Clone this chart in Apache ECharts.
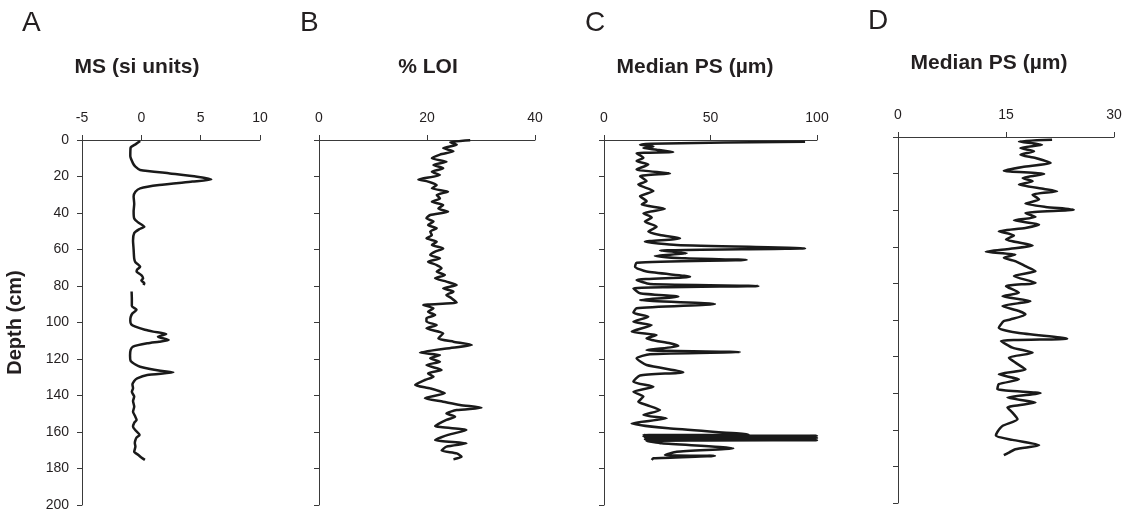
<!DOCTYPE html>
<html>
<head>
<meta charset="utf-8">
<script src="https://cdn.jsdelivr.net/npm/echarts@6/dist/echarts.min.js"></script>
<style>
  html, body { margin: 0; padding: 0; background: #fff; }
  #chart { width: 1132px; height: 514px; }
</style>
</head>
<body>
<div id="chart"></div>
<script>
// [depth (cm), value]
var msData = [
  [0.5,-0.1],[2.4,-0.5],[4.2,-0.9],[8.8,-0.93],[12.8,-0.7],[14.6,-0.5],[16.4,-0.1],[18.3,2.4],[20.1,4.7],[21.6,5.9],
  [22.8,4.3],[24.7,1.5],[26.5,-0.1],[28.4,-0.5],[31,-0.65],[35,-0.6],[39,-0.65],[43,-0.6],[45,-0.3],[47.5,0.25],
  [49,-0.2],[51,-0.6],[55,-0.7],[60,-0.65],[65,-0.6],[67,-0.5],[69.4,-0.1],[71,-0.35],[72,-0.4],[74,0.0],
  [75.7,0.15],[77,0.0],[78.5,0.25],[79.5,0.2],[81,null],[83,-0.82],[87,-0.8],[91,-0.8],[93,-0.4],[95,-0.75],
  [97,-0.9],[99,-0.93],[101,-0.85],[102.3,-0.5],[104,0.3],[105,1.0],[106.3,2.1],[107.8,1.4],[109.6,2.3],[110.5,1.5],
  [111.4,0.5],[113.2,-0.7],[115,-0.9],[118,-0.95],[121,-0.9],[123,-0.5],[124.2,-0.1],[126.4,1.6],[127.3,2.7],[128.8,0.5],
  [130.6,-0.35],[132,-0.6],[134,-0.75],[136,-0.7],[138,-0.8],[140.6,-0.6],[143,-0.7],[146.1,-0.6],[148.9,-0.7],[151,-0.55],
  [153.4,-0.4],[155,-0.6],[157.1,-0.7],[159,-0.5],[161.6,-0.15],[163,-0.4],[164.4,-0.5],[166,-0.55],[168,-0.5],[170.8,-0.6],
  [172.6,-0.25],[174,0.0],[175.3,0.3]
];
var loiData = [
  [0.2,28.0],[1.3,24.3],[2.6,25.5],[4.4,23.0],[6.2,24.9],[8.0,22.4],[10,20.9],[11.9,23.6],[13.7,21.2],[15.5,23.0],
  [17.4,20.9],[19.2,22.4],[21.6,18.4],[22.8,20.2],[24.7,21.8],[26.5,20.9],[28.3,23.9],[30.1,21.8],[32,22.4],[33.8,20.9],
  [35.6,23.0],[37.5,22.1],[39.3,23.9],[41.1,20.6],[42.9,19.9],[44.7,21.2],[46.6,20.2],[48.4,21.8],[50.2,20.6],[52.1,20.9],
  [53.9,19.9],[55.7,21.8],[57.5,20.9],[59.4,23.0],[61.2,21.5],[63,20.6],[64.8,22.4],[66.7,20.2],[68.5,21.8],[70.3,22.7],
  [72.1,21.8],[74,23.3],[75.8,21.5],[77.6,23.6],[79.5,25.5],[81.3,23.0],[83.1,24.9],[84.9,23.6],[86.8,24.6],[89.1,25.5],
  [90.4,19.3],[92.2,21.2],[94.1,20.2],[95.9,21.5],[97.7,19.9],[99.5,19.9],[101.4,21.8],[103.2,19.9],[105.9,23.0],[108.7,22.1],
  [110.5,24.9],[112.3,28.3],[114.2,23.6],[116.5,18.7],[117.8,22.4],[119.6,20.6],[121.5,22.4],[123.3,19.9],[126,22.7],[127.9,20.2],
  [129.7,21.2],[131.5,19.6],[134.2,17.8],[136.1,20.6],[138.8,23.3],[141.5,19.6],[143.4,23.0],[145.2,26.1],[146.7,30.1],[148,25.5],
  [149.8,23.6],[151.6,25.2],[153.4,23.6],[156.7,21.5],[158.9,27.3],[161.6,23.9],[164.4,21.5],[166.2,27.3],[168,23.6],[170.2,22.7],
  [171.7,25.5],[173.5,26.4],[175,24.9]
];
var psData = [
  [0.9,94.4],[2,22],[2.6,16.9],[3.5,23.2],[4.4,18.5],[5.3,24.7],[6.6,32.5],[7.3,15.3],[9.7,18.5],[11.5,15.3],
  [13.4,20.8],[16.1,15.3],[18.3,31.0],[19.8,16.9],[22.5,20.0],[24.4,16.1],[28,23.2],[30.8,16.9],[33.5,20.0],[35.3,17.7],
  [37.7,28.6],[40.2,18.5],[42.4,22.4],[44.7,19.2],[47.5,24.7],[50.2,20.8],[52.1,26.3],[53.9,35.7],[55.7,19.2],[57.5,34.1],
  [59.4,94.4],[60.6,26.3],[62.1,38.8],[63.5,23.9],[64.8,38.0],[65.7,67.0],[67.2,15.3],[69.4,14.6],[72.1,20.0],[74.9,40.4],
  [76.7,15.3],[78.9,21.6],[80,72.5],[81.3,13.8],[84,16.9],[85.8,34.9],[87.7,16.9],[89.9,52.1],[92.2,15.3],[94.6,13.8],
  [96.8,20.8],[99.6,13.8],[101.4,22.4],[105,13.0],[106.9,24.7],[108.7,20.0],[111.4,31.0],[112.9,34.9],[115.1,20.0],[116.2,63.8],
  [117.4,21.6],[119.6,15.3],[123.3,20.0],[127.2,37.2],[129,16.9],[132.4,13.8],[135.2,23.2],[138,13.8],[140.6,18.5],[143.4,16.1],
  [145.2,20.0],[148,26.3],[150.7,18.5],[152.5,29.4],[155.3,13.0],[158,30.2],[161.3,67.8],[161.7,18.5],[162.1,100],[162.5,18.5],
  [162.9,100],[163.3,19.2],[163.7,100],[164.1,19.2],[164.5,100],[164.9,20.0],[166.2,27.1],[168.9,60.7],[170.8,34.1],[172.6,28.6],
  [173.1,52.1],[174.4,23.2],[175.3,22.4]
];
var ps2Data = [
  [1.5,21.4],[2.4,16.8],[4.2,20.0],[6,17.0],[7.8,18.9],[9.7,17.0],[11.5,19.1],[14.2,21.2],[16.4,17.3],[18.4,14.7],
  [20.2,20.3],[22.4,17.3],[24.2,18.7],[26,16.8],[28.4,20.3],[29.7,22.1],[31.5,18.7],[34.2,19.6],[36.4,17.7],[38.2,20.5],
  [39.7,24.4],[41.5,17.7],[43.7,19.1],[45.5,16.1],[47.8,19.6],[49.7,17.7],[51.5,14.0],[53.8,16.1],[56,15.0],[59.3,18.7],
  [61.1,15.6],[62.7,12.2],[64.2,16.3],[66,14.7],[67.8,16.3],[70.6,17.7],[73.3,19.1],[76,16.1],[79.7,19.1],[81.5,15.0],
  [85.1,16.8],[87,14.5],[89.7,18.4],[92.4,14.5],[95.1,16.8],[97,17.7],[99.7,15.6],[100.6,14.7],[104.2,14.0],[107,16.6],
  [110.2,23.5],[111.5,14.3],[115.1,15.9],[117.9,18.7],[120.6,15.4],[123.3,16.3],[127,17.7],[129.7,14.0],[132.4,16.8],[135.1,14.0],
  [137.8,13.8],[140,19.8],[142.4,15.2],[145.1,19.1],[147.8,15.2],[150.6,15.9],[154.2,16.6],[157.9,14.5],[161.2,13.8],[163.3,13.6],
  [165.5,15.9],[168.4,19.6],[170.6,16.3],[172.5,15.4],[173.9,14.7]
];

var panelLetters = ['A', 'B', 'C', 'D'];
var panelTitles = ['MS (si units)', '% LOI', 'Median PS (\u00b5m)', 'Median PS (\u00b5m)'];
var xRanges = [[-5, 10, 5], [0, 40, 20], [0, 100, 50], [0, 30, 15]];
var depthRange = [0, 200, 20];

var font = "'Liberation Sans', Arial, sans-serif";
var ink = '#231f20';
var axisCol = '#3a3a3a';

var grids = [
  { left: 82, top: 140, width: 178, height: 365 },
  { left: 319, top: 140, width: 216, height: 365 },
  { left: 604, top: 140, width: 213, height: 365 },
  { left: 898, top: 137, width: 216, height: 366 }
];
var letterPos = [[22, 23], [300, 23], [585, 23], [868, 21]];
var titlePos = [[137, 67], [428, 67], [695, 67], [989, 63]];

function toXY(rows) {
  return rows.map(function (r) { return [r[1] == null ? '-' : r[1], r[0]]; });
}
var seriesData = [msData, loiData, psData, ps2Data];

var chart = echarts.init(document.getElementById('chart'), null, { renderer: 'canvas' });

var graphics = [];
panelLetters.forEach(function (t, i) {
  graphics.push({
    type: 'text', x: letterPos[i][0], y: letterPos[i][1],
    style: { text: t, font: '28px ' + font, fill: ink, align: 'left', verticalAlign: 'middle', textAlign: 'left', textVerticalAlign: 'middle' }
  });
  graphics.push({
    type: 'text', x: titlePos[i][0], y: titlePos[i][1],
    style: { text: panelTitles[i], font: 'bold 21px ' + font, fill: ink, align: 'center', verticalAlign: 'middle', textAlign: 'center', textVerticalAlign: 'middle' }
  });
});

chart.setOption({
  animation: false,
  backgroundColor: '#fff',
  grid: grids,
  graphic: graphics,
  xAxis: xRanges.map(function (r, i) {
    return {
      type: 'value', gridIndex: i, position: 'top',
      min: r[0], max: r[1], interval: r[2],
      axisLine: { show: true, onZero: false, lineStyle: { color: axisCol, width: 1 } },
      axisTick: { show: true, length: 5, lineStyle: { color: axisCol } },
      axisLabel: { fontSize: 14, color: ink, fontFamily: font, margin: 15 },
      splitLine: { show: false }
    };
  }),
  yAxis: grids.map(function (g, i) {
    return {
      type: 'value', gridIndex: i, inverse: true,
      min: depthRange[0], max: depthRange[1], interval: depthRange[2],
      name: i === 0 ? 'Depth (cm)' : '',
      nameLocation: 'middle', nameGap: 57, nameRotate: 90,
      nameTextStyle: { fontSize: 20, fontWeight: 'bold', color: ink, fontFamily: font },
      axisLine: { show: true, onZero: false, lineStyle: { color: axisCol, width: 1 } },
      axisTick: { show: true, length: 5, lineStyle: { color: axisCol } },
      axisLabel: { show: i === 0, fontSize: 14, color: ink, fontFamily: font, margin: 13 },
      splitLine: { show: false }
    };
  }),
  series: seriesData.map(function (d, i) {
    return {
      type: 'line', xAxisIndex: i, yAxisIndex: i,
      data: toXY(d),
      showSymbol: false, symbol: 'none',
      smooth: 0.2,
      connectNulls: false,
      lineStyle: { color: '#1a1a1a', width: 2.5 }
    };
  })
});
</script>
</body>
</html>
